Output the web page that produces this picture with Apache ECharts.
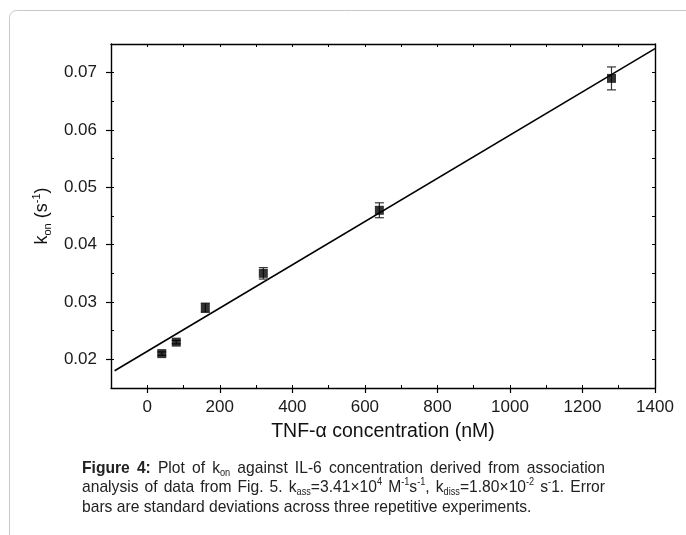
<!DOCTYPE html>
<html>
<head>
<meta charset="utf-8">
<script src="https://cdn.jsdelivr.net/npm/echarts@6/dist/echarts.min.js"></script>
<style>
  html, body { margin: 0; padding: 0; background: #fff; }
  #chart { width: 686px; height: 535px; }
</style>
</head>
<body>
<div id="chart"></div>
<script>
// Datos
const concentracion = [40, 80, 160, 320, 640, 1280];      // nM
const kon = [0.021, 0.023, 0.029, 0.035, 0.046, 0.069];   // s^-1
const konError = [0.0003, 0.0003, 0.0008, 0.001, 0.0013, 0.002];
const ajuste = [[-90, 0.0180], [1400, 0.0742]];           // recta de ajuste
const ticksX = [0, 200, 400, 600, 800, 1000, 1200, 1400];
const ticksY = [0.02, 0.03, 0.04, 0.05, 0.06, 0.07];

// Pie de figura, palabra por palabra (lineas justificadas)
const pieLineas = [
    ['{b|Figure}', '{b|4:}', '{n|Plot}', '{n|of}', '{n|k}{sub|on}', '{n|against}', '{n|IL-6}',
     '{n|concentration}', '{n|derived}', '{n|from}', '{n|association}'],
    ['{n|analysis}', '{n|of}', '{n|data}', '{n|from}', '{n|Fig.}', '{n|5.}',
     '{n|k}{sub|ass}{n|=3.41×10}{sup|4}', '{n|M}{sup|-1}{n|s}{sup|-1}{n|,}',
     '{n|k}{sub|diss}{n|=1.80×10}{sup|-2}', '{n|s}{sup|-}{n|1.}', '{n|Error}'],
    ['{n|bars}', '{n|are}', '{n|standard}', '{n|deviations}', '{n|across}', '{n|three}',
     '{n|repetitive}', '{n|experiments.}']
];

const fuente = 'Liberation Sans, Arial, sans-serif';
const escalaPie = 0.92;   // texto del pie algo estrecho
const puntos = concentracion.map((c, i) => [c, kon[i]]);
const barras = concentracion.map((c, i) => [c, kon[i] - konError[i], kon[i] + konError[i]]);

const estilosPie = {
    b: { fontSize: 17, fontWeight: 'bold', fill: '#222', lineHeight: 20, fontFamily: fuente },
    n: { fontSize: 17, fontWeight: 'normal', fill: '#222', lineHeight: 20, fontFamily: fuente },
    sub: { fontSize: 10, fontWeight: 'normal', fill: '#222', lineHeight: 11, verticalAlign: 'bottom', fontFamily: fuente },
    sup: { fontSize: 10, fontWeight: 'normal', fill: '#222', lineHeight: 13, verticalAlign: 'top', fontFamily: fuente }
};

// Medir el ancho de una palabra con formato rich
const ctx = document.createElement('canvas').getContext('2d');
function anchoPalabra(p) {
    let w = 0;
    p.replace(/\{(\w+)\|([^}]*)\}/g, function (m, st, txt) {
        const s = estilosPie[st];
        ctx.font = s.fontWeight + ' ' + s.fontSize + 'px ' + s.fontFamily;
        w += ctx.measureText(txt).width;
        return m;
    });
    return w * escalaPie;
}

function construirPie(x0, y0, anchoTotal, interlinea) {
    const elems = [];
    ctx.font = 'normal 17px ' + fuente;
    const espacio = ctx.measureText(' ').width * escalaPie;
    pieLineas.forEach(function (palabras, li) {
        const anchos = palabras.map(anchoPalabra);
        const suma = anchos.reduce((a, b) => a + b, 0);
        const ultima = li === pieLineas.length - 1;
        const hueco = ultima ? espacio : (anchoTotal - suma) / (palabras.length - 1);
        let x = x0;
        palabras.forEach(function (p, i) {
            elems.push({
                type: 'text', x: x, y: y0 + li * interlinea, scaleX: escalaPie,
                style: { text: p, rich: estilosPie }
            });
            x += anchos[i] + hueco;
        });
    });
    return elems;
}

const chart = echarts.init(document.getElementById('chart'));

const ejeComun = {
    axisLine: { onZero: false, lineStyle: { color: '#000', width: 1.4 } },
    splitLine: { show: false }
};
const ejeMenor = {
    axisLine: { show: false, onZero: false }, splitLine: { show: false }, axisLabel: { show: false },
    axisTick: { inside: true, length: 3, lineStyle: { color: '#000' } }
};

chart.setOption({
    animation: false,
    textStyle: { fontFamily: fuente },
    grid: { left: 111, right: 31, top: 44, bottom: 147 },
    xAxis: [
        {   // eje inferior principal
            type: 'value', position: 'bottom', min: -100, max: 1400,
            ...ejeComun,
            axisTick: { customValues: ticksX, length: 5, lineStyle: { color: '#000', width: 1.2 } },
            axisLabel: { customValues: ticksX, color: '#1a1a1a', fontSize: 17, margin: 11,
                         formatter: v => String(v) },
            name: 'TNF-α concentration (nM)',
            nameLocation: 'middle', nameGap: 34,
            nameTextStyle: { fontSize: 19.5, color: '#111' }
        },
        {   // marcas menores hacia dentro, abajo
            type: 'value', position: 'bottom', min: -100, max: 1400, interval: 100, ...ejeMenor
        },
        {   // eje superior
            type: 'value', position: 'top', min: -100, max: 1400, interval: 100,
            ...ejeComun, axisLabel: { show: false },
            axisTick: { inside: true, length: 3, lineStyle: { color: '#000' } }
        }
    ],
    yAxis: [
        {   // eje izquierdo principal
            type: 'value', position: 'left', min: 0.015, max: 0.075,
            ...ejeComun,
            axisTick: { customValues: ticksY, length: 5, lineStyle: { color: '#000', width: 1.2 } },
            axisLabel: { customValues: ticksY, color: '#1a1a1a', fontSize: 17, margin: 14,
                         formatter: v => v.toFixed(2) },
            name: '{n|k}{sub|on}{n| (s}{sup|-1}{n|)}',
            nameLocation: 'middle', nameGap: 58,
            nameTextStyle: {
                rich: {
                    n: { fontSize: 18, color: '#111', lineHeight: 22, fontFamily: fuente },
                    sub: { fontSize: 11, color: '#111', lineHeight: 12, verticalAlign: 'bottom', fontFamily: fuente },
                    sup: { fontSize: 11, color: '#111', lineHeight: 14, verticalAlign: 'top', fontFamily: fuente }
                }
            }
        },
        {   // marcas menores hacia dentro, izquierda
            type: 'value', position: 'left', min: 0.015, max: 0.075, interval: 0.005, ...ejeMenor
        },
        {   // eje derecho
            type: 'value', position: 'right', min: 0.015, max: 0.075, interval: 0.005,
            ...ejeComun, axisLabel: { show: false },
            axisTick: { inside: true, length: 3, lineStyle: { color: '#000' } }
        }
    ],
    series: [
        {
            name: 'Ajuste', type: 'line', data: ajuste,
            symbol: 'none', lineStyle: { color: '#000', width: 1.6 }, z: 2
        },
        {
            name: 'Error', type: 'custom', data: barras, z: 3,
            renderItem: function (params, api) {
                const x = api.value(0);
                const bajo = api.coord([x, api.value(1)]);
                const alto = api.coord([x, api.value(2)]);
                const w = 4.5;
                const estilo = { stroke: '#333', lineWidth: 1.2 };
                return {
                    type: 'group',
                    children: [
                        { type: 'line', shape: { x1: bajo[0], y1: bajo[1], x2: alto[0], y2: alto[1] }, style: estilo },
                        { type: 'line', shape: { x1: bajo[0] - w, y1: bajo[1], x2: bajo[0] + w, y2: bajo[1] }, style: estilo },
                        { type: 'line', shape: { x1: alto[0] - w, y1: alto[1], x2: alto[0] + w, y2: alto[1] }, style: estilo }
                    ]
                };
            }
        },
        {
            name: 'kon', type: 'scatter', data: puntos, z: 4,
            symbol: 'rect', symbolSize: 9, itemStyle: { color: '#000' }
        }
    ],
    graphic: [
        {   // marco exterior
            type: 'rect', z: -1,
            shape: { x: 9.5, y: 10.5, width: 690, height: 560, r: 7 },
            style: { fill: 'none', stroke: '#c8c8c8', lineWidth: 1 }
        }
    ].concat(construirPie(82, 458, 523, 19.5))
});
</script>
</body>
</html>
